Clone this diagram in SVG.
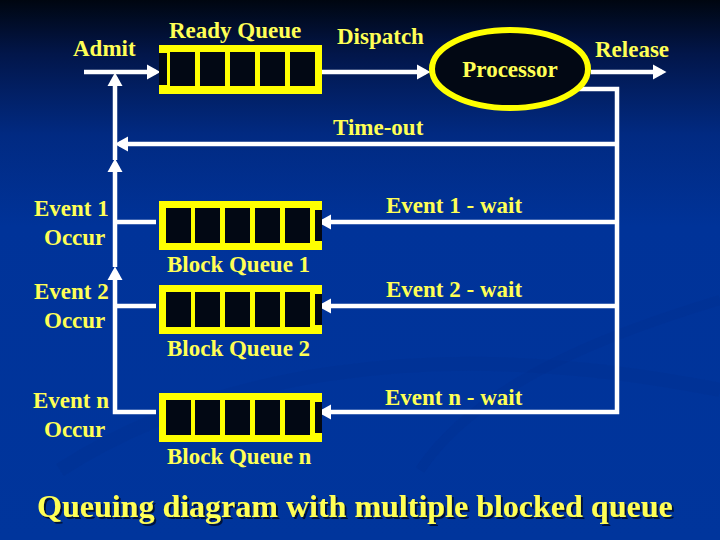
<svg xmlns="http://www.w3.org/2000/svg" xmlns:xlink="http://www.w3.org/1999/xlink" width="720" height="540" viewBox="0 0 720 540">
<style>
.t{font-family:"Liberation Serif","Times New Roman",serif;font-weight:bold;font-size:23px;fill:#ffff55}
.title{font-size:32px}
.c{fill:none;stroke:#ffffff;stroke-width:4.5;stroke-linejoin:miter}
.qy{fill:#ffff00}
.qb{fill:#020814}
</style>
<defs>
<linearGradient id="bg" x1="0" y1="0" x2="0" y2="1">
<stop offset="0" stop-color="#000610"/>
<stop offset="0.1" stop-color="#02164a"/>
<stop offset="0.25" stop-color="#012a82"/>
<stop offset="0.42" stop-color="#003399"/>
<stop offset="1" stop-color="#00359c"/>
</linearGradient>
<filter id="sh" x="-5%" y="-30%" width="110%" height="160%">
<feDropShadow dx="2" dy="2" stdDeviation="0.6" flood-color="#000830" flood-opacity="0.9"/>
</filter>
<marker id="ah" markerUnits="userSpaceOnUse" markerWidth="14" markerHeight="16" refX="9" refY="8" orient="auto">
<path d="M0,0.5 L13.5,8 L0,15.5 z" fill="#ffffff"/>
</marker>
<g id="readyq">
<rect class="qy" x="0" y="0" width="163" height="49"/>
<rect class="qb" x="0" y="8" width="8" height="32"/>
<rect class="qb" x="11" y="7" width="25" height="34"/>
<rect class="qb" x="41" y="7" width="25" height="34"/>
<rect class="qb" x="71" y="7" width="25" height="34"/>
<rect class="qb" x="101" y="7" width="25" height="34"/>
<rect class="qb" x="131" y="7" width="25" height="34"/>
</g>
<g id="blockq">
<rect class="qy" x="0" y="0" width="163" height="49"/>
<rect class="qb" x="7" y="7" width="25" height="35"/>
<rect class="qb" x="36" y="7" width="25" height="35"/>
<rect class="qb" x="66" y="7" width="25" height="35"/>
<rect class="qb" x="96" y="7" width="25" height="35"/>
<rect class="qb" x="126" y="7" width="25" height="35"/>
<rect class="qb" x="156" y="9" width="7" height="31"/>
</g>
</defs>
<rect x="0" y="0" width="720" height="540" fill="url(#bg)"/>
<path d="M60,470 C200,380 420,330 720,390" fill="none" stroke="#00308e" stroke-width="14" opacity="0.35"/>
<path d="M420,470 C480,380 620,330 720,300" fill="none" stroke="#00308e" stroke-width="10" opacity="0.3"/>

<g id="connectors">
<path class="c" d="M84,72 H156" marker-end="url(#ah)"/>
<path class="c" d="M322,72 H426" marker-end="url(#ah)"/>
<path class="c" d="M591,72 H662" marker-end="url(#ah)"/>
<path class="c" d="M575,89 H617 V412 H322" marker-end="url(#ah)"/>
<path class="c" d="M617,144 H119" marker-end="url(#ah)"/>
<path class="c" d="M617,222 H322" marker-end="url(#ah)"/>
<path class="c" d="M617,306 H322" marker-end="url(#ah)"/>
<path class="c" d="M156,412 H115 V271" marker-end="url(#ah)"/>
<path class="c" d="M156,306 H115"/>
<path class="c" d="M115,267 V163" marker-end="url(#ah)"/>
<path class="c" d="M156,222 H115"/>
<path class="c" d="M115,160 V77" marker-end="url(#ah)"/>
</g>

<g id="ready-queue">
<use xlink:href="#readyq" x="159" y="45"/>
<text class="t" x="169" y="38">Ready Queue</text>
</g>
<g id="processor">
<ellipse cx="510" cy="69" rx="78" ry="39" fill="#020814" stroke="#ffff00" stroke-width="6"/>
<text class="t" x="510" y="77" text-anchor="middle">Processor</text>
</g>
<g id="block-queue-1">
<use xlink:href="#blockq" x="159" y="201"/>
<text class="t" x="167" y="272">Block Queue 1</text>
</g>
<g id="block-queue-2">
<use xlink:href="#blockq" x="159" y="285"/>
<text class="t" x="167" y="356">Block Queue 2</text>
</g>
<g id="block-queue-n">
<use xlink:href="#blockq" x="159" y="393"/>
<text class="t" x="167" y="464">Block Queue n</text>
</g>

<g id="labels">
<text class="t" x="73" y="56">Admit</text>
<text class="t" x="337" y="44">Dispatch</text>
<text class="t" x="595" y="57">Release</text>
<text class="t" x="333" y="135">Time-out</text>
<text class="t" x="34" y="216">Event 1</text>
<text class="t" x="44" y="245">Occur</text>
<text class="t" x="34" y="299">Event 2</text>
<text class="t" x="44" y="328">Occur</text>
<text class="t" x="33" y="408">Event n</text>
<text class="t" x="44" y="437">Occur</text>
<text class="t" x="386" y="213">Event 1 - wait</text>
<text class="t" x="386" y="297">Event 2 - wait</text>
<text class="t" x="385" y="405">Event n - wait</text>
</g>
<g id="title">
<text class="t title" x="37" y="517" filter="url(#sh)">Queuing diagram with multiple blocked queue</text>
</g>
</svg>
